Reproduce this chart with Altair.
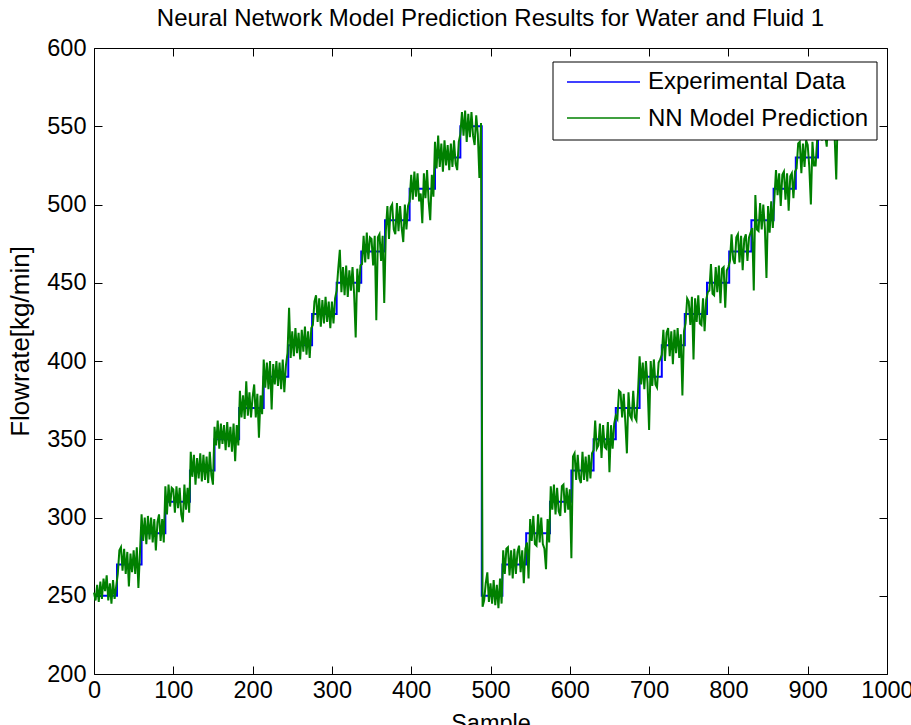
import altair as alt
import numpy as np
import pandas as pd

# ---------------- text ----------------
title_text = "Neural Network Model Prediction Results for Water and Fluid 1"
x_title = "Sample"
y_title = "Flowrate[kg/min]"
series_names = ["Experimental Data", "NN Model Prediction"]
series_colors = ["#0000FF", "#008000"]

x_ticks = [0, 100, 200, 300, 400, 500, 600, 700, 800, 900, 1000]
y_ticks = [200, 250, 300, 350, 400, 450, 500, 550, 600]

# ---------------- experimental data (step set-points) ----------------
exp_step_start = [0, 29, 60, 90, 121, 152, 183, 214, 245, 275, 306, 337, 367, 398, 430, 462,
                  489, 515, 545, 575, 602, 630, 658, 688, 716, 745, 773, 801, 829, 857, 885, 913,
                  943]
exp_step_level = [250, 270, 290, 310, 330, 350, 370, 390, 410, 430, 450, 470, 490, 510, 530, 550,
                  250, 270, 290, 310, 330, 350, 370, 390, 410, 430, 450, 470, 490, 510, 530, 550,
                  550]

# ---------------- NN prediction error (read every 2 samples, kg/min) ----------------
nn_dev = [
    2, -3, 7, -4, 9, -2, 11, 3, 13, -3, 8, -5, 10, -2, 6, -6, 9, 11, -4, 10, -6, 8, -14, 7, -5,
    9, -6, 11, -15, 8, 12, -5, 10, -7, 11, -4, 10, -6, 9, -11, 7, 12, -5, 9, -6, 10, -8, 11, -3, 9,
    8, -7, 10, -4, 9, -8, -13, 11, -5, 9, -7, 12, -4, 10, -9, 8, -5, 11, -7, 10, -6, 9, -8, 12, -3,
    -9, 8, -4, 12, -6, 10, -3, 9, -7, 11, -5, 8, -8, 10, -14, 9, -4, 11, -6, 8, -7, 17, -5, 10, -6,
    7, 15, -6, 9, -19, 8, -4, 11, -7, 9, -8, 10, -21, 8, -5, 10, -6, 9, -8, 11, -10, 7, 15, 24, -8,
    9, -7, 11, -5, 8, -9, 10, -4, 12, -6, 9, -8, 11, -7, 8, 12, -5, 10, -8, 9, -6, 11, -5, 8, -9,
    8, -6, 10, -5, 9, 21, -6, 10, -8, 11, -9, 8, -5, 10, -7, -35, 9, -6, 11, -8, 10, -7, 12, -5, 9,
    8, -9, 10, -44, 9, 11, -6, 10, -33, -7, 9, -12, 8, 10, -6, -9, 11, -7, 9, -5, -14, 10, -6, 9, -8,
    9, -7, 11, -5, 10, -8, -3, -22, 10, -6, 12, -8, -20, 9, -5, 10, -7, 14, -6, 9, -9, 11, -5, 8, -8,
    9, -6, 11, -4, -8, 10, -5, 9, -6, 10, -10, 8, -7, 9, -6, -12, 7, -5, -33, 2, -7, -3, 8, 15, -4,
    8, -5, 10, -6, 7, -8, 11, -5, 9, -6, 10, 11, -7, 9, -9, 10, -6, 8, 12, -5, 9, -12, 10, -6, -29,
    9, -5, 11, -7, -8, 12, -6, 10, -7, -10, -23, 9, -6, 10, -5, 11, -8, 9, -6, -9, 10, 11, -7, 9, -5,
    8, -56, 9, 11, -6, 10, -5, -8, 12, -6, 9, -7, 10, -5, 11, -7, 12, -6, -4, 10, -12, 9, -5, -6, 11,
    -21, 9, -6, 10, -5, -7, 11, 10, -6, 9, -9, -29, 10, -5, -7, 11, -6, -8, 10, 13, -5, 9, -8, 10, -4,
    -34, 10, -6, 11, -5, -7, 9, 11, -6, 10, -10, 8, 11, -7, 9, -12, 10, -5, 11, -8, 7, -32, 9, -6, 10,
    8, -7, 11, -29, 10, -5, 12, -6, -7, 10, -11, 9, -6, -5, 12, -7, -8, 10, -6, 11, -13, 9, 10, -16, 8,
    10, -6, 11, -5, -8, 9, 11, -7, 10, -12, 8, 11, -6, 9, 12, -5, -45, 16, -6, -7, 11, -6, 10, -5, -37,
    9, -8, 12, -5, -6, 12, -4, 10, -11, 9, 11, -7, 10, -14, 8, 10, -6, 11, -7, 9, 10, -10, 9, -6, 11,
    8, -6, -30, 10, -5, -5, 12, -6, 10, -9, 11, -5, -13, 9, -6, 11, -4, -7, -34, 10, -5, 8,
]

# ---------------- tables ----------------
exp_df = pd.DataFrame({"sample": exp_step_start, "flow": exp_step_level})

pred_x = np.arange(0, 2 * len(nn_dev), 2)
idx = np.searchsorted(np.array(exp_step_start), pred_x, side="right") - 1
pred_df = pd.DataFrame({"sample": pred_x,
                        "flow": np.array(exp_step_level)[idx] + np.array(nn_dev)})

FONT = "Liberation Sans"
FS = 23.5
W, H = 793, 626

xscale = alt.Scale(domain=[0, 1000], nice=False, zero=False)
yscale = alt.Scale(domain=[200, 600], nice=False, zero=False)

common_axis = dict(domain=False, grid=False, tickSize=8, tickColor="black", tickWidth=1,
                   offset=-8, labelFont=FONT, labelFontSize=FS, labelColor="black",
                   titleFont=FONT, titleColor="black",
                   titleFontWeight="normal", labelFlush=False, labelOverlap=False)

exp_line = alt.Chart(exp_df).mark_line(
    interpolate="step-after", color=series_colors[0], strokeWidth=2
).encode(
    x=alt.X("sample:Q", scale=xscale,
            axis=alt.Axis(orient="bottom", values=x_ticks, format="d", title=x_title,
                          titleFontSize=FS, labelPadding=4, titleBaseline="top", titleY=45,
                          **common_axis)),
    y=alt.Y("flow:Q", scale=yscale,
            axis=alt.Axis(orient="left", values=y_ticks, format="d", title=y_title,
                          titleFontSize=26, labelPadding=8, titleBaseline="middle",
                          titleAngle=270, titleX=-82, titleY=293, **common_axis)),
)

pred_line = alt.Chart(pred_df).mark_line(
    color=series_colors[1], strokeWidth=2
).encode(
    x=alt.X("sample:Q", scale=xscale,
            axis=alt.Axis(orient="top", values=x_ticks, labels=False, title=None, **common_axis)),
    y=alt.Y("flow:Q", scale=yscale,
            axis=alt.Axis(orient="right", values=y_ticks, labels=False, title=None, **common_axis)),
)

# ---------------- legend box ----------------
one = pd.DataFrame({"k": [0]})
leg_box = alt.Chart(one).mark_rect(fill="white", stroke="black", strokeWidth=1).encode(
    x=alt.value(459), x2=alt.value(783), y=alt.value(14), y2=alt.value(92))
leg_l1 = alt.Chart(one).mark_rule(color=series_colors[0], strokeWidth=1.5).encode(
    x=alt.value(473), x2=alt.value(546), y=alt.value(34))
leg_l2 = alt.Chart(one).mark_rule(color=series_colors[1], strokeWidth=1.5).encode(
    x=alt.value(473), x2=alt.value(546), y=alt.value(70))
leg_t1 = alt.Chart(one).mark_text(text=series_names[0], align="left", baseline="middle",
                                  font=FONT, fontSize=24, color="black").encode(
    x=alt.value(554), y=alt.value(34))
leg_t2 = alt.Chart(one).mark_text(text=series_names[1], align="left", baseline="middle",
                                  font=FONT, fontSize=24, color="black").encode(
    x=alt.value(554), y=alt.value(71))

chart = alt.layer(exp_line, pred_line, leg_box, leg_l1, leg_l2, leg_t1, leg_t2).resolve_axis(
    x="independent", y="independent"
).resolve_scale(x="shared", y="shared").properties(
    width=W, height=H,
    autosize=alt.AutoSizeParams(type="none"),
    padding={"left": 94, "top": 48, "right": 24, "bottom": 51},
    background="white",
    title=alt.TitleParams(text=title_text, font=FONT, fontSize=24, fontWeight="normal",
                          color="black", anchor="middle", offset=5),
).configure_view(stroke="black", strokeWidth=1)

chart.save("out.html", embed_options={"renderer": "svg", "actions": False})
